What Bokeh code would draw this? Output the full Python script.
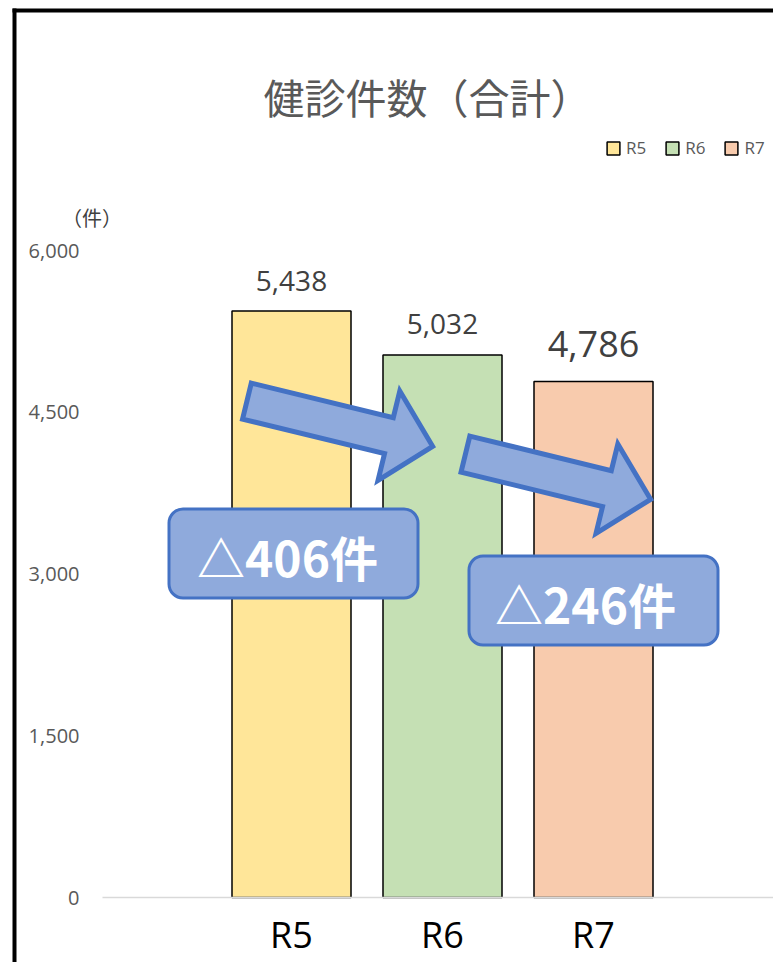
import math
from bokeh.plotting import figure
from bokeh.models import (ColumnDataSource, Range1d, FixedTicker, NumeralTickFormatter,
                          BoxAnnotation, Label, Legend, LegendItem)
from bokeh.core.properties import value
from bokeh.embed import file_html
from bokeh.resources import INLINE

# ---- data ----
categories = ["R5", "R6", "R7"]
counts = [5438, 5032, 4786]
count_labels = ["5,438", "5,032", "4,786"]
y_ticks = [0, 1500, 3000, 4500, 6000]
diff_labels = ["△406件", "△246件"]
title_text = "健診件数（合計）"
unit_text = "（件）"

# ---- styles ----
bar_colors = ["#FFE699", "#C5E0B4", "#F8CBAD"]
label_sizes = ["28px", "28px", "36px"]
label_offsets = [-30, -31, -37]

W, H = 773, 962
# layout in canvas pixels
AXIS_X = 102      # left end of the plot area
BASE_Y = 897      # pixel of value 0
PX_PER_CAT = 151.0
PX_PER_6000 = 647.0
x_start = 1 - 291 / PX_PER_CAT
x_end = x_start + W / PX_PER_CAT


def xd(px):
    return x_start + px / PX_PER_CAT


def yd(py):
    return (BASE_Y - py) * 6000 / PX_PER_6000


p = figure(width=W, height=H, output_backend="svg", toolbar_location=None,
           title=None, x_range=Range1d(x_start, x_end), y_range=Range1d(yd(H), yd(0)),
           min_border=0)
p.min_border_left = 0
p.min_border_right = 0
p.min_border_top = 0
p.min_border_bottom = 0
p.outline_line_color = None
p.xgrid.visible = False
p.ygrid.visible = False
p.background_fill_color = "white"
p.border_fill_color = "white"

xs = [i + 1 for i in range(len(categories))]
src = ColumnDataSource(dict(x=xs, count=counts, cat=categories, color=bar_colors,
                            label=count_labels, size=label_sizes, off=label_offsets))

bars = p.vbar(x="x", top="count", width=119 / PX_PER_CAT, source=src,
              fill_color="color", line_color="black", line_width=1.5)

p.text(x="x", y="count", text="label", source=src, text_align="center",
       text_baseline="middle", text_font_size="size", y_offset="off",
       text_color="#404040", text_font=value("Open Sans"))

# axes (drawn at fixed locations inside the canvas)
yax = p.yaxis[0]
yax.fixed_location = xd(AXIS_X)
yax.ticker = FixedTicker(ticks=y_ticks)
yax.formatter = NumeralTickFormatter(format="0,0")
yax.axis_line_color = None
yax.major_tick_line_color = None
yax.minor_tick_line_color = None
yax.major_tick_out = 0
yax.major_tick_in = 0
yax.minor_tick_out = 0
yax.major_label_text_font_size = "20px"
yax.major_label_text_color = "#595959"
yax.major_label_text_font = "Open Sans"
yax.major_label_standoff = 23

xax = p.xaxis[0]
xax.fixed_location = 0
xax.bounds = (xd(AXIS_X), x_end)
xax.ticker = FixedTicker(ticks=xs)
xax.major_label_overrides = {x: c for x, c in zip(xs, categories)}
xax.axis_line_color = "#D9D9D9"
xax.axis_line_width = 1.5
xax.major_tick_line_color = None
xax.minor_tick_line_color = None
xax.major_tick_out = 0
xax.major_tick_in = 0
xax.minor_tick_out = 0
xax.major_label_text_font_size = "36px"
xax.major_label_text_color = "black"
xax.major_label_text_font = "Open Sans"
xax.major_label_standoff = 12


# arrows (annotation shapes, canvas pixels converted to data units)
def arrow_poly(tx, ty, hx, hy):
    dx, dy = hx - tx, hy - ty
    L = math.hypot(dx, dy)
    ux, uy = dx / L, dy / L
    nx, ny = -uy, ux
    w, h = 18.5, 46.0
    sb, s0, s1 = L - 50, 2.5, L - 5
    pts = [(s0, -w), (sb, -w), (sb, -h), (s1, 0), (sb, h), (sb, w), (s0, w)]
    return ([xd(tx + s * ux + t * nx) for s, t in pts],
            [yd(ty + s * uy + t * ny) for s, t in pts])


a1 = arrow_poly(244, 400, 437, 447)
a2 = arrow_poly(462.5, 453, 655, 500)
p.patches([a1[0], a2[0]], [a1[1], a2[1]], fill_color="#8FAADC",
          line_color="#4472C4", line_width=5, line_join="miter")

for (l, r, t, b), txt, (cx, cy) in zip(
        [(168.5, 417.5, 508.5, 597.5), (468.5, 717.5, 555.5, 644.5)],
        diff_labels, [(287, 555), (585, 602)]):
    p.add_layout(BoxAnnotation(left=xd(l), right=xd(r), top=yd(t), bottom=yd(b),
                               fill_color="#8FAADC", fill_alpha=1, line_color="#4472C4",
                               line_alpha=1, line_width=3, border_radius=14))
    p.add_layout(Label(x=xd(cx), y=yd(cy), text=txt, text_align="center",
                       text_baseline="middle", text_color="white",
                       text_font="Noto Sans CJK JP", text_font_style="bold",
                       text_font_size="48px"))

# title and unit
p.add_layout(Label(x=xd(427), y=yd(95), text=title_text, text_align="center",
                   text_baseline="middle", text_color="#595959",
                   text_font="Noto Sans CJK JP", text_font_size="41px"))
p.add_layout(Label(x=xd(91.5), y=yd(217), text=unit_text, text_align="center",
                   text_baseline="middle", text_color="#404040",
                   text_font="Noto Sans CJK JP", text_font_size="20px"))

# legend
items = [LegendItem(label=c, renderers=[bars], index=i) for i, c in enumerate(categories)]
legend = Legend(items=items, orientation="horizontal", location=(605, 803),
                glyph_width=16, glyph_height=16, label_standoff=5, spacing=18,
                padding=0, margin=0, border_line_color=None, background_fill_alpha=0,
                label_text_font_size="17px", label_text_color="#595959",
                label_text_font="Open Sans")
p.add_layout(legend)

# outer chart border (only its left and top edges fall inside the picture)
p.multi_line(xs=[[xd(14), xd(14)], [xd(12), xd(W + 50)]],
             ys=[[yd(8), yd(H + 50)], [yd(10), yd(10)]],
             line_color="black", line_width=4)

open("out.html", "w").write(file_html(p, INLINE))
